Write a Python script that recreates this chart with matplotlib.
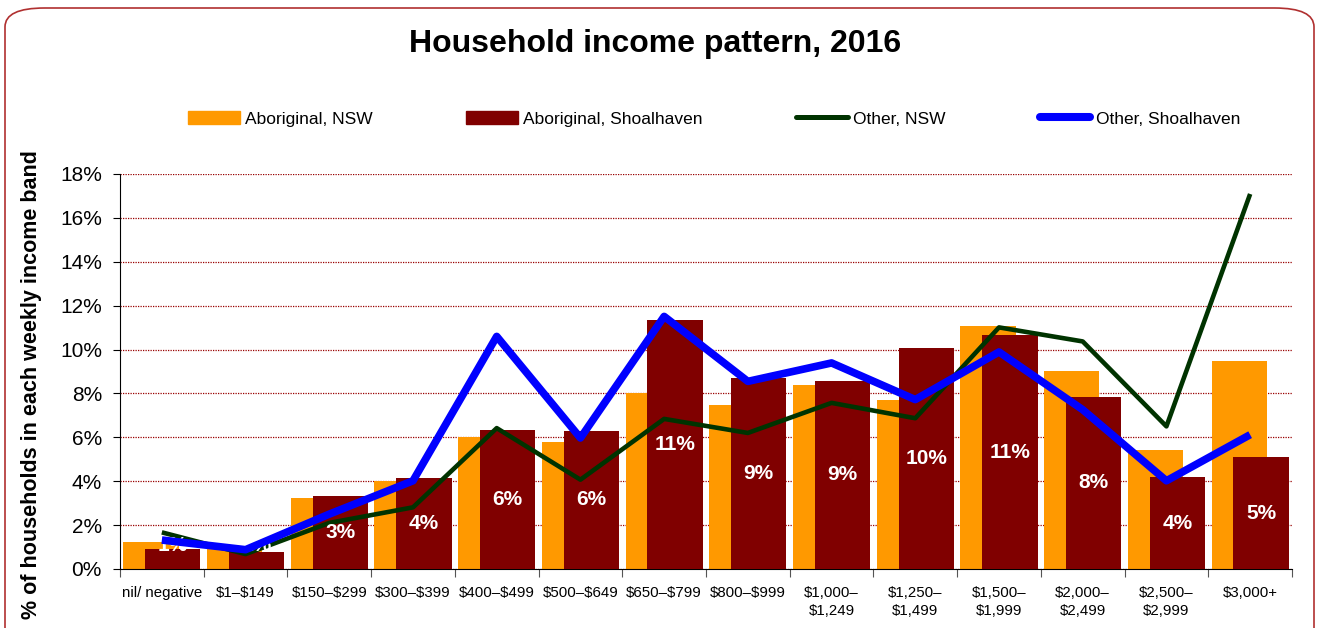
import matplotlib
matplotlib.use("Agg")
import matplotlib.pyplot as plt
import numpy as np
from matplotlib.patches import FancyBboxPatch, Patch
from matplotlib.lines import Line2D
from matplotlib.ticker import FixedLocator, PercentFormatter

plt.rcParams["text.parse_math"] = False

categories = ["nil/ negative", "$1–$149", "$150–$299", "$300–$399", "$400–$499",
              "$500–$649", "$650–$799", "$800–$999", "$1,000–\n$1,249",
              "$1,250–\n$1,499", "$1,500–\n$1,999", "$2,000–\n$2,499",
              "$2,500–\n$2,999", "$3,000+"]
aboriginal_nsw = [1.23, 0.95, 3.24, 4.01, 6.02, 5.79, 8.04, 7.47, 8.37, 7.70, 11.07, 9.04, 5.44, 9.49]
aboriginal_shoal = [0.91, 0.77, 3.31, 4.15, 6.32, 6.29, 11.36, 8.72, 8.57, 10.07, 10.66, 7.85, 4.19, 5.10]
other_nsw = [1.67, 0.68, 2.10, 2.81, 6.42, 4.07, 6.84, 6.20, 7.57, 6.87, 11.01, 10.37, 6.50, 17.09]
other_shoal = [1.32, 0.88, 2.50, 4.02, 10.60, 5.97, 11.51, 8.55, 9.39, 7.72, 9.89, 7.26, 4.02, 6.12]
yticks = [0, 2, 4, 6, 8, 10, 12, 14, 16, 18]
series_names = ["Aboriginal, NSW", "Aboriginal, Shoalhaven", "Other, NSW", "Other, Shoalhaven"]

narrow = ["Liberation Sans Narrow", "Liberation Sans", "DejaVu Sans"]
arial = ["Liberation Sans", "DejaVu Sans"]

C_ORANGE, C_DARK, C_GREEN, C_BLUE = "#FF9900", "#800000", "#003300", "#0000FF"

fig = plt.figure(figsize=(13.2, 6.28), dpi=100)
ax = fig.add_axes([120/1320, 1-569/628, (1292-120)/1320, (569-174)/628])

x = np.arange(len(categories))
w = 0.66
ax.bar(x - 0.13, aboriginal_nsw, width=w, color=C_ORANGE, zorder=2)
ax.bar(x + 0.13, aboriginal_shoal, width=w, color=C_DARK, zorder=3)
ax.plot(x, other_nsw, color=C_GREEN, lw=3.3, zorder=4, solid_capstyle="butt")
ax.plot(x, other_shoal, color=C_BLUE, lw=5.5, zorder=5, solid_capstyle="butt")

for xi, v in zip(x, aboriginal_shoal):
    ax.text(xi + 0.13, max(v / 2, 1.05), f"{round(v):.0f}%", ha="center", va="center",
            color="white", fontsize=15, fontweight="bold", family=arial, zorder=4.5)

ax.set_xlim(-0.5, len(categories) - 0.5)
ax.set_ylim(0, 18)
ax.set_yticks(yticks)
ax.yaxis.set_major_formatter(PercentFormatter(decimals=0))
ax.tick_params(axis="y", labelsize=15, length=5, direction="out", pad=8)
for lab in ax.get_yticklabels():
    lab.set_family(arial)
ax.yaxis.grid(True, color="#990000", linestyle=(0, (1, 1)), lw=0.9, zorder=0)
ax.set_axisbelow(True)

ax.xaxis.set_major_locator(FixedLocator(np.arange(-0.5, len(categories), 1.0)))
ax.xaxis.set_minor_locator(FixedLocator(x))
ax.set_xticklabels([], minor=False)
ax.set_xticklabels(categories, minor=True, fontsize=10.8, family=narrow, va="top", linespacing=1.35)
ax.tick_params(axis="x", which="major", length=6, direction="out", color="#555555")
ax.tick_params(axis="x", which="minor", length=0, pad=12)

for s in ["top", "right"]:
    ax.spines[s].set_visible(False)
ax.spines["left"].set_color("black")
ax.spines["bottom"].set_color("black")

ax.set_ylabel("% of households in each weekly income band", fontsize=15.5, fontweight="bold",
              family=arial)
ax.yaxis.set_label_coords(-0.0665, 0.468)

fig.text(0.496, 1 - 44/628, "Household income pattern, 2016", ha="center", va="center",
         fontsize=23, fontweight="bold", family=arial)

# legend entries, laid out across the top
handles = [Patch(color=C_ORANGE), Patch(color=C_DARK),
           Line2D([], [], color=C_GREEN, lw=3.6, solid_capstyle="round"),
           Line2D([], [], color=C_BLUE, lw=5.8, solid_capstyle="round")]
leg_x = [188, 466, 796, 1040]
leg_hl = [3.0, 3.0, 3.0, 2.9]
for h, name, lx, hl in zip(handles, series_names, leg_x, leg_hl):
    fig.legend([h], [name], loc="center left", bbox_to_anchor=(lx/1320, 1 - 119/628),
               frameon=False, prop={"family": narrow, "size": 12.5}, handlelength=hl,
               handleheight=0.8, handletextpad=0.3, borderpad=0, borderaxespad=0)

border = FancyBboxPatch((5/1320, -0.05), 1309/1320, 1 - 8/628 + 0.05,
                        boxstyle="round,pad=0,rounding_size=0.03",
                        transform=fig.transFigure, fill=False, edgecolor="#B03030", lw=1.2)
fig.patches.append(border)

fig.savefig("out.png", dpi=100)
